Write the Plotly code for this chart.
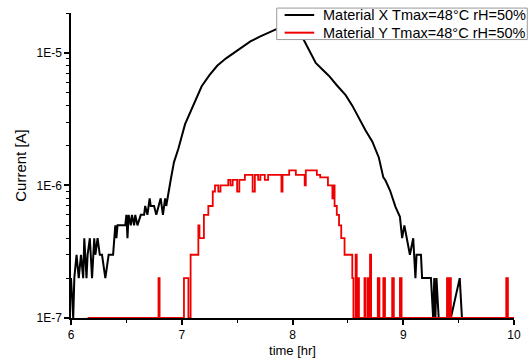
import plotly.graph_objects as go

# ---------------- data ----------------
x_black = [6.00, 6.02, 6.03, 6.05, 6.07, 6.09, 6.11, 6.12, 6.14, 6.15, 6.17, 6.19, 6.21, 6.22,
           6.24, 6.26, 6.28, 6.31, 6.34, 6.38, 6.40, 6.41, 6.42, 6.49, 6.50, 6.51, 6.52, 6.54,
           6.55, 6.57, 6.58, 6.60, 6.63, 6.66, 6.67, 6.69, 6.71, 6.72, 6.74, 6.75, 6.77, 6.79,
           6.81, 6.83, 6.85, 6.86, 6.88, 6.90, 6.93, 6.97, 7.03, 7.10, 7.18, 7.25, 7.32, 7.40,
           7.47, 7.55, 7.62, 7.70, 7.77, 7.87, 7.93, 7.98, 8.03, 8.07, 8.10, 8.16, 8.21, 8.27,
           8.33, 8.40, 8.48, 8.54, 8.60, 8.66, 8.72, 8.78, 8.82, 8.84, 8.88, 8.93, 8.97, 8.99,
           9.01, 9.06, 9.09, 9.11, 9.12, 9.16, 9.17, 9.25, 9.27, 9.28, 9.29, 9.30, 9.32, 9.40,
           9.41, 9.43, 9.51, 9.53, 10.00]
y_black = [2e-7, 1e-7, 2e-7, 3e-7, 2e-7, 3e-7, 2e-7, 4e-7, 2e-7, 3e-7, 4e-7, 2e-7, 4e-7, 3e-7,
           4e-7, 3e-7, 3e-7, 2e-7, 3e-7, 3e-7, 5e-7, 4e-7, 5e-7, 5e-7, 6e-7, 4e-7, 6e-7, 5e-7,
           6e-7, 5e-7, 6e-7, 5e-7, 6e-7, 6e-7, 7e-7, 6e-7, 8e-7, 7e-7, 7e-7, 7e-7, 6e-7, 7e-7,
           8e-7, 6e-7, 8e-7, 7e-7, 9e-7, 1.1e-6, 1.5e-6, 1.9e-6, 2.9e-6, 4.0e-6, 5.6e-6, 6.8e-6,
           8.0e-6, 9.1e-6, 1.0e-5, 1.12e-5, 1.22e-5, 1.32e-5, 1.41e-5, 1.53e-5, 1.58e-5, 1.6e-5,
           1.5e-5, 1.38e-5, 1.26e-5, 1.02e-5, 8.4e-6, 7.5e-6, 6.7e-6, 5.7e-6, 4.8e-6, 4.0e-6,
           3.2e-6, 2.6e-6, 2.15e-6, 1.62e-6, 1.15e-6, 1.09e-6, 9.2e-7, 6.9e-7, 5.8e-7, 4e-7,
           5e-7, 3e-7, 4e-7, 2e-7, 3e-7, 3e-7, 2e-7, 2e-7, 1e-7, 2e-7, 1e-7, 2e-7, 1e-7, 1e-7,
           2e-7, 1e-7, 2e-7, 1e-7, 1e-7]

x_red = [6.15, 6.79, 6.80, 7.02, 7.06, 7.08, 7.15, 7.16, 7.20, 7.24, 7.28, 7.30, 7.33, 7.35,
         7.42, 7.44, 7.46, 7.50, 7.52, 7.57, 7.64, 7.66, 7.69, 7.71, 7.75, 7.78, 7.90, 7.91,
         7.97, 8.03, 8.11, 8.12, 8.22, 8.25, 8.32, 8.36, 8.37, 8.38, 8.40, 8.42, 8.44, 8.47,
         8.54, 8.55, 8.57, 8.58, 8.59, 8.60, 8.65, 8.66, 8.68, 8.69, 8.70, 8.71, 8.77, 8.785,
         8.82, 8.835, 8.90, 8.915, 8.97, 8.985, 9.395, 9.405, 9.42, 9.43, 9.93, 9.945, 10.00]
y_red = [1e-7, 2e-7, 1e-7, 2e-7, 1e-7, 3e-7, 5e-7, 4e-7, 6e-7, 7e-7, 9e-7, 1.0e-6, 9e-7, 1.0e-6,
         1.1e-6, 1.0e-6, 1.1e-6, 9e-7, 1.1e-6, 1.2e-6, 9e-7, 1.2e-6, 1.1e-6, 1.2e-6, 1.1e-6, 1.2e-6,
         9e-7, 1.2e-6, 1.3e-6, 1.2e-6, 1.0e-6, 1.3e-6, 1.2e-6, 1.15e-6, 1.0e-6, 8e-7, 1.0e-6, 7e-7,
         6e-7, 5e-7, 4e-7, 3e-7, 2e-7, 1e-7, 3e-7, 1e-7, 2e-7, 1e-7, 2e-7, 1e-7, 2e-7, 1e-7, 3e-7,
         1e-7, 2e-7, 1e-7, 2e-7, 1e-7, 2e-7, 1e-7, 2e-7, 1e-7, 2e-7, 1e-7, 2e-7, 1e-7, 2e-7, 1e-7,
         1e-7]

name_black = "Material X Tmax=48°C rH=50%"
name_red = "Material Y Tmax=48°C rH=50%"

y_tickvals = [1e-7, 1e-6, 1e-5]
y_ticktext = ["1E-7", "1E-6", "1E-5"]
y_minor = [m * 10.0 ** e for e in (-7, -6, -5) for m in range(2, 10) if m * 10.0 ** e <= 2e-5]

# ---------------- figure ----------------
fig = go.Figure()
fig.add_trace(go.Scatter(x=x_black, y=y_black, mode="lines", name=name_black,
                         line=dict(color="black", width=2)))
fig.add_trace(go.Scatter(x=x_red, y=y_red, mode="lines", name=name_red,
                         line=dict(color="#ee0000", width=1.8, shape="hv")))

font = "Liberation Sans, Arial, sans-serif"

# legend drawn as a boxed key (paper coordinates)
leg_x0, leg_x1, leg_y0, leg_y1 = 0.4644, 1.03, 0.9129, 1.0161
row_y = [0.9935, 0.9355]
line_x = [0.4822, 0.5489]
text_x = 0.5644
shapes = [dict(type="rect", xref="paper", yref="paper", x0=leg_x0, x1=leg_x1, y0=leg_y0, y1=leg_y1,
               fillcolor="white", line=dict(color="#9a9a9a", width=1), layer="above")]
annotations = []
for ry, tr in zip(row_y, fig.data):
    shapes.append(dict(type="line", xref="paper", yref="paper", x0=line_x[0], x1=line_x[1],
                       y0=ry, y1=ry, line=dict(color=tr.line.color, width=2), layer="above"))
    annotations.append(dict(xref="paper", yref="paper", x=text_x, y=ry, xanchor="left", yanchor="middle",
                            text=tr.name, showarrow=False, font=dict(size=14.5, family=font, color="black")))

fig.update_layout(
    width=528, height=363,
    margin=dict(l=71, r=7, t=13, b=40),
    paper_bgcolor="white", plot_bgcolor="white",
    font=dict(family=font, size=12, color="black"),
    showlegend=False,
    shapes=shapes, annotations=annotations,
    xaxis=dict(range=[6, 10], dtick=1, tick0=6, showline=True, linecolor="black", linewidth=2,
               ticks="outside", ticklen=5, tickwidth=1.5, tickcolor="black",
               showgrid=False, zeroline=False,
               minor=dict(dtick=0.5, tick0=6, ticks="outside", ticklen=3, tickwidth=1, tickcolor="black"),
               tickfont=dict(size=12), title=dict(text="time [hr]", font=dict(size=13), standoff=4)),
    yaxis=dict(type="log", range=[-7, -4.699], showline=True, linecolor="black", linewidth=1.5,
               tickmode="array", tickvals=y_tickvals, ticktext=y_ticktext,
               ticks="outside", ticklen=5, tickwidth=1.5, tickcolor="black",
               showgrid=False, zeroline=False,
               minor=dict(tickmode="array", tickvals=y_minor, ticks="outside", ticklen=3,
                          tickwidth=1, tickcolor="black"),
               tickfont=dict(size=12), title=dict(text="Current [A]", font=dict(size=15), standoff=6)),
)

fig.write_html("out.html")
